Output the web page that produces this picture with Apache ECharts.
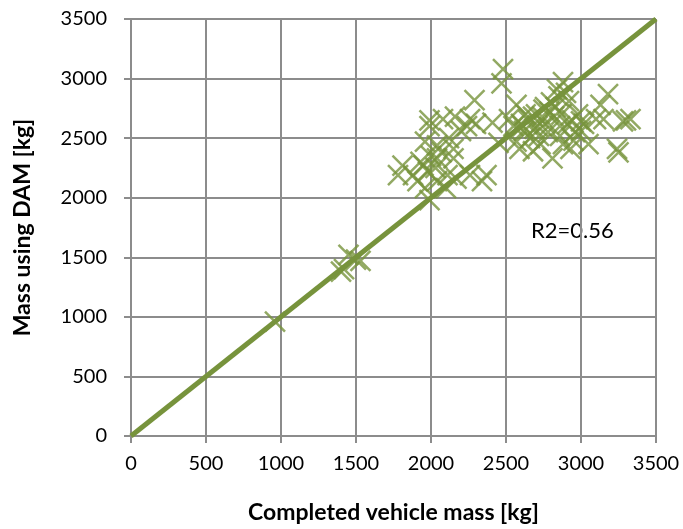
<!DOCTYPE html>
<html>
<head>
<meta charset="utf-8">
<script src="https://cdn.jsdelivr.net/npm/echarts@6/dist/echarts.min.js"></script>
<style>
  html, body { margin: 0; padding: 0; background: #fff; }
  #chart { width: 683px; height: 529px; }
</style>
</head>
<body>
<div id="chart"></div>
<script>
// axis ticks
const xTicks = [0, 500, 1000, 1500, 2000, 2500, 3000, 3500];
const yTicks = [0, 500, 1000, 1500, 2000, 2500, 3000, 3500];

// [completed vehicle mass, mass using DAM] in kg
const lowPoints = [
  [960, 960], [1400, 1380], [1420, 1400], [1450, 1520], [1500, 1480], [1530, 1470]
];
const leftCluster = [
  [1780, 2190], [1810, 2270], [1880, 2190], [1910, 2140], [1930, 2300], [1950, 2270],
  [1960, 2080], [1960, 2470], [1990, 1980], [1990, 2600], [1990, 2650], [2040, 2140],
  [2040, 2330], [2040, 2440], [2080, 2660], [2100, 2080], [2110, 2190], [2150, 2330],
  [2150, 2410], [2160, 2680], [2170, 2160], [2240, 2600], [2260, 2190], [2260, 2660],
  [2290, 2820], [2340, 2140], [2370, 2190], [2410, 2630], [2000, 2350], [2070, 2380],
  [2200, 2560], [2120, 2500], [1980, 2220], [2030, 2250], [2300, 2620], [2450, 2460],
  [2480, 3080], [2470, 2960]
];
const rightCluster = [
  [2520, 2660], [2570, 2780], [2570, 2470], [2590, 2410], [2600, 2620], [2620, 2560],
  [2650, 2650], [2660, 2500], [2680, 2390], [2700, 2700], [2710, 2600], [2730, 2450],
  [2750, 2740], [2760, 2620], [2780, 2550], [2800, 2800], [2810, 2330], [2820, 2680],
  [2840, 2910], [2850, 2850], [2860, 2600], [2880, 2970], [2880, 2450], [2900, 2880],
  [2920, 2810], [2930, 2410], [2940, 2650], [2960, 2550], [2980, 2700], [3000, 2560],
  [3020, 2620], [3050, 2450], [3100, 2660], [3130, 2780], [3150, 2660], [3180, 2870],
  [3240, 2410], [3250, 2380], [3280, 2640], [3330, 2660], [2550, 2600], [2630, 2700],
  [2690, 2580], [2740, 2680], [2790, 2720], [2830, 2760], [2870, 2700], [2910, 2620],
  [2950, 2480], [2680, 2680], [2760, 2760], [2720, 2520], [2610, 2600], [2860, 2520],
  [3000, 2640], [3300, 2650]
];
// 1:1 reference line
const lineX = [0, 3500];
const lineY = [0, 3500];
const r2Text = 'R2=0.56';

const green = '#77933C';
const gridGrey = '#8C8C8C';
const font = 'Lato, "Open Sans", sans-serif';

const chart = echarts.init(document.getElementById('chart'));

const axisCommon = {
  type: 'value',
  min: xTicks[0],
  max: xTicks[xTicks.length - 1],
  interval: 500,
  axisLine: { show: true, lineStyle: { color: gridGrey, width: 2 } },
  axisTick: { show: true, inside: false, length: 7, lineStyle: { color: gridGrey, width: 2 } },
  splitLine: { show: true, lineStyle: { color: gridGrey, width: 2 } },
  axisLabel: { color: '#000', fontSize: 20, fontFamily: font, formatter: v => String(v) },
  nameLocation: 'middle',
  nameTextStyle: { color: '#000', fontSize: 23, fontWeight: 'bold', fontFamily: font }
};

chart.setOption({
  animation: false,
  grid: { left: 131, right: 27, top: 19, bottom: 88 },
  xAxis: Object.assign({}, axisCommon, {
    name: 'Completed vehicle mass [kg]',
    nameGap: 65,
    axisLabel: Object.assign({}, axisCommon.axisLabel, { margin: 18 })
  }),
  yAxis: Object.assign({}, axisCommon, {
    min: yTicks[0],
    max: yTicks[yTicks.length - 1],
    name: 'Mass using DAM [kg]',
    nameGap: 97,
    axisLabel: Object.assign({}, axisCommon.axisLabel, { margin: 24 })
  }),
  graphic: [{
    type: 'text',
    left: 531,
    top: 220,
    style: { text: r2Text, fill: '#000', fontSize: 22, fontFamily: font }
  }],
  series: [
    {
      type: 'scatter',
      data: lowPoints.concat(leftCluster, rightCluster),
      symbol: 'path://M0,0 L10,10 M10,0 L0,10',
      symbolSize: 20,
      itemStyle: { color: 'none', borderColor: green, borderWidth: 2.5 },
      z: 2
    },
    {
      type: 'line',
      data: lineX.map((x, i) => [x, lineY[i]]),
      symbol: 'none',
      lineStyle: { color: green, width: 5 },
      z: 3
    }
  ]
});
</script>
</body>
</html>
